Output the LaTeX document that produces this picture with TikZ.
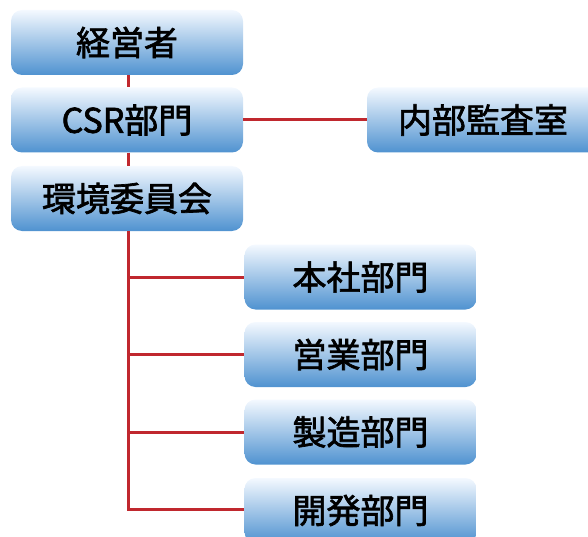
\documentclass[tikz,border=0pt]{standalone}
\usepackage{fontspec}
\newfontfamily\cjk[FakeBold=2]{Noto Sans CJK JP}
\definecolor{boxtop}{HTML}{F4F9FF}
\definecolor{boxbot}{HTML}{4F92D0}
\definecolor{linered}{HTML}{C0282E}
\begin{document}
\begin{tikzpicture}[x=1pt,y=-1pt,
  orgbox/.style={rounded corners=11pt, top color=boxtop, bottom color=boxbot, draw=none,
    minimum width=232pt, minimum height=65pt, inner sep=0pt,
    font=\cjk\fontsize{34}{36}\selectfont, text=black},
  link/.style={draw=linered, line width=3pt}]
\useasboundingbox (0,0) rectangle (588,537);
\node[orgbox] (ceo) at (127,42.5) {経営者};
\node[orgbox] (csr) at (127,120) {CSR部門};
\node[orgbox] (env) at (127,198.5) {環境委員会};
\node[orgbox] (audit) at (483,120) {内部監査室};
\node[orgbox] (hq) at (360.5,277) {本社部門};
\node[orgbox] (sales) at (360.5,354.5) {営業部門};
\node[orgbox] (mfg) at (360.5,432) {製造部門};
\node[orgbox] (dev) at (360.5,510.5) {開発部門};
\coordinate (trunk) at (128,509);
\draw[link] (ceo.south -| trunk) -- (csr.north -| trunk);
\draw[link] (csr.south -| trunk) -- (env.north -| trunk);
\draw[link] (csr.east) -- (audit.west);
\draw[link] (env.south -| trunk) -- (trunk) -- (dev.west |- trunk);
\draw[link] (hq.west -| trunk) -- (hq.west);
\draw[link] (sales.west -| trunk) -- (sales.west);
\draw[link] (mfg.west -| trunk) -- (mfg.west);
\end{tikzpicture}
\end{document}
